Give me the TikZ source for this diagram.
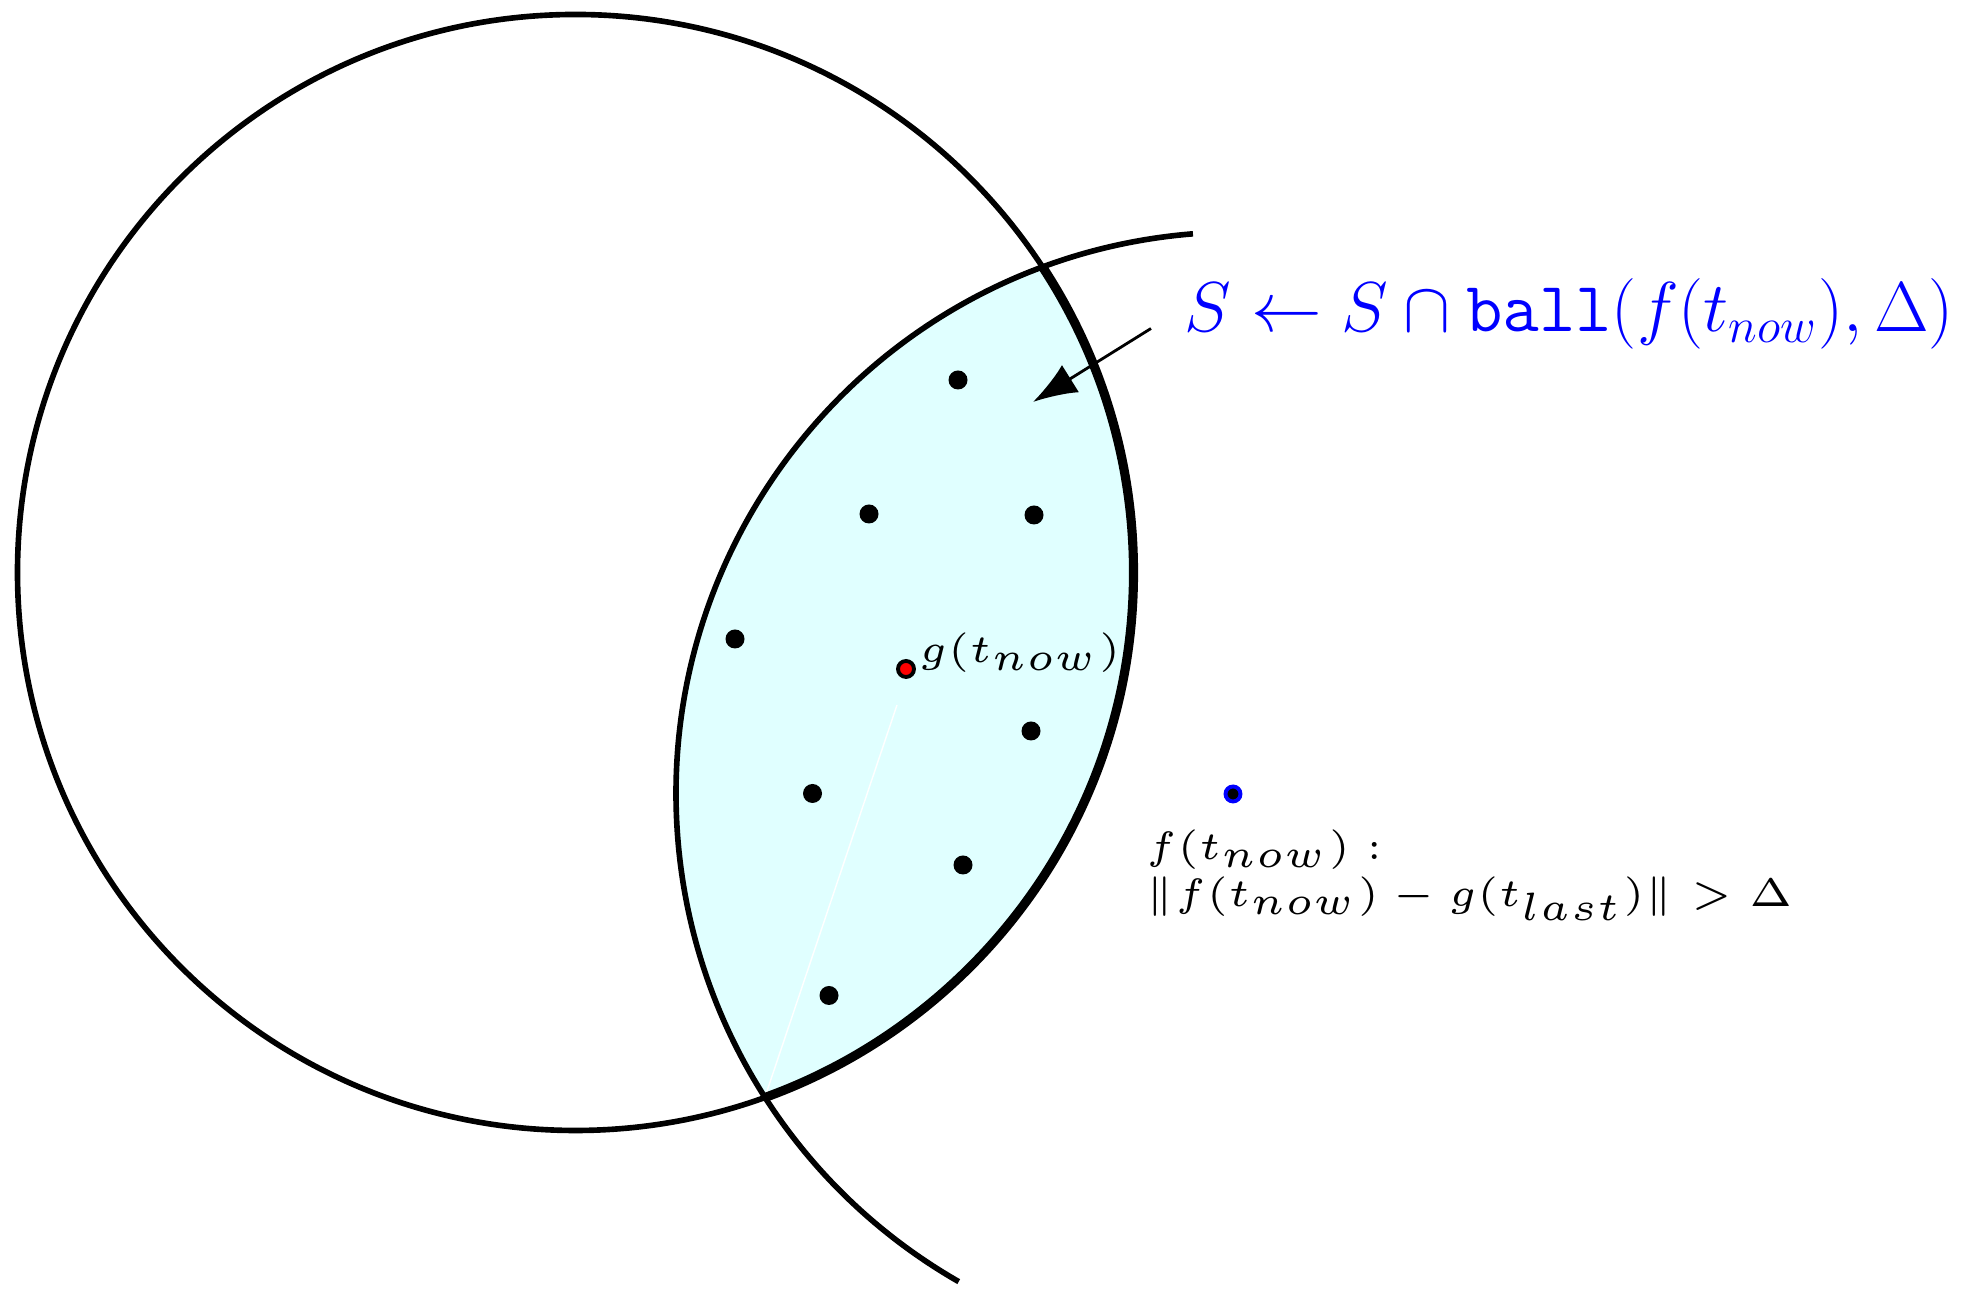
\documentclass[tikz,border=0pt]{standalone}
\usetikzlibrary{arrows.meta}
\definecolor{lenscyan}{RGB}{224,255,255}
\begin{document}
\begin{tikzpicture}[x=0.01cm,y=0.01cm,
  thinline/.style={line width=1.6pt},
  thickline/.style={line width=2.6pt},
  blackdot/.style={circle,fill=black,inner sep=0pt,minimum size=0.19cm},
  reddot/.style={circle,fill=red,draw=black,line width=1.1pt,inner sep=0pt,minimum size=0.16cm},
  bluedot/.style={circle,fill=black,draw=blue,line width=1.1pt,inner sep=0pt,minimum size=0.15cm},
  lbl/.style={anchor=base west,inner sep=0pt,font=\fontsize{5}{6}\selectfont},
  upd/.style={anchor=base west,inner sep=0pt,text=blue,font=\fontsize{17.28}{21}\selectfont},
  arr/.style={line width=0.8pt,-{Latex[length=0.44cm,width=0.32cm]}}]
\useasboundingbox (0,0) rectangle (1966,1289);
\coordinate (O1) at (575.5,716.5);
\coordinate (O2) at (1238,495);
\begin{scope}
  \clip (O1) circle (558);
  \fill[lenscyan] (O2) circle (562);
\end{scope}
\coordinate (ibot) at (765,192);
\coordinate (wend) at (897,584);
\draw[white,line width=0.4pt] (ibot) -- (wend);
\draw[thinline] (O1) circle (558);
\begin{scope}
  \clip (O2) circle (562);
  \draw[thickline] (O1) circle (558);
\end{scope}
\draw[thinline] ([shift={(94.6:562)}]O2) arc[start angle=94.6,end angle=240.2,radius=562];
% points
\node[blackdot] (p1) at (958,909) {};
\node[blackdot] (p2) at (869,775) {};
\node[blackdot] (p3) at (1034,774) {};
\node[blackdot] (p4) at (735,650) {};
\node[blackdot] (p5) at (1031,558) {};
\node[blackdot] (p6) at (812.5,495.5) {};
\node[blackdot] (p7) at (963,424) {};
\node[blackdot] (p8) at (829,293.5) {};
\node[reddot] (g) at (906,620) {};
\node[bluedot] (f) at (1233,495) {};
% labels
\node[lbl] (gl) at (918,626) {\scalebox{2.25}{$g(t_{now})$}};
\node[lbl] (fl1) at (1145,429) {\scalebox{2.25}{$f(t_{now}):$}};
\node[lbl] (fl2) at (1145,382) {\scalebox{2.25}{$\|f(t_{now})-g(t_{last})\|>\Delta$}};
\node[upd] (updtext) at (1184,957) {\scalebox{1.163}{$S \leftarrow S \cap \mathtt{ball}(f(t_{now}),\Delta)$}};
\coordinate (astart) at (1151,960.5);
\coordinate (atip) at (1033,887);
\draw[arr] (astart) -- (atip);
\end{tikzpicture}
\end{document}
